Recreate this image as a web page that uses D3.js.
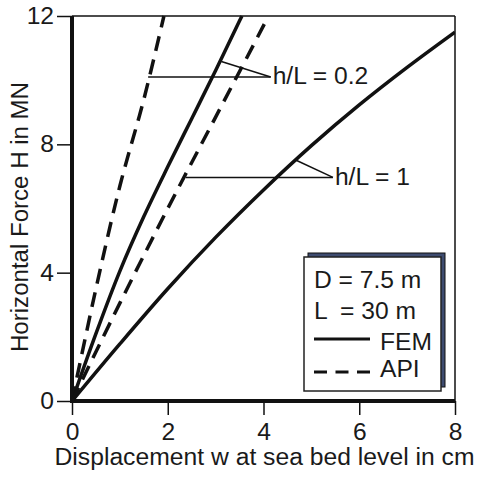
<!DOCTYPE html>
<html>
<head>
<meta charset="utf-8">
<script src="https://cdn.jsdelivr.net/npm/d3@7"></script>
<style>
  body { margin: 0; background: #fff; }
  svg text { font-family: "Liberation Sans", Arial, sans-serif; fill: #1a1a1a; }
</style>
</head>
<body>
<svg id="chart" width="478" height="477"></svg>
<script>
// values: displacement w (cm) vs force H (MN)
let femShortW = [0, 0.5, 1, 1.5, 2, 2.5, 3, 3.5, 3.55];
let femShortH = [0, 2.1, 4.05, 5.75, 7.3, 8.8, 10.3, 11.85, 12];
let apiShortW = [0, 0.5, 1, 1.5, 1.92];
let apiShortH = [0, 3.5, 6.7, 9.4, 12];
let femLongW  = [0, 1, 2, 3, 4, 5, 6, 7, 8];
let femLongH  = [0, 1.78, 3.5, 5.1, 6.58, 7.96, 9.23, 10.4, 11.5];
let apiLongW  = [0, 1, 2, 3, 4, 4.1];
let apiLongH  = [0, 3.05, 6.0, 8.85, 11.7, 12];

let xTicks = [0, 2, 4, 6, 8];
let yTicks = [0, 4, 8, 12];

// annotation leaders, in data units: [from curve point, to label point]
let leaderShort = [[1.59, 10.1], [4.15, 10.1], [3.12, 10.58]];
let leaderLong  = [[2.38, 6.97], [5.45, 6.97], [4.66, 7.52]];
let legendRows  = ['D = 7.5 m', 'L', 'FEM', 'API'];

const svg = d3.select('#chart');
const margin = { top: 16, left: 72, right: 23, bottom: 76 };
const width  = 478 - margin.left - margin.right;   // 383
const height = 477 - margin.top - margin.bottom;   // 385

const x = d3.scaleLinear().domain([0, 8]).range([margin.left, margin.left + width]);
const y = d3.scaleLinear().domain([0, 12]).range([margin.top + height, margin.top]);

const zip = (ws, hs) => ws.map((w, i) => ({ w: w, h: hs[i] }));
const line = d3.line()
  .x(d => x(d.w))
  .y(d => y(d.h))
  .curve(d3.curveCatmullRom.alpha(0.5));

// frame: thin top and right
svg.append('line')
  .attr('x1', x(0)).attr('x2', x(8))
  .attr('y1', y(12)).attr('y2', y(12))
  .attr('stroke', '#111').attr('stroke-width', 1.5);
svg.append('line')
  .attr('x1', x(8)).attr('x2', x(8))
  .attr('y1', y(12)).attr('y2', y(0))
  .attr('stroke', '#111').attr('stroke-width', 1.5);

// axes
const xAxis = svg.append('g')
  .attr('transform', `translate(0,${y(0)})`)
  .call(d3.axisBottom(x).tickValues(xTicks).tickSize(14).tickPadding(9).tickFormat(d3.format('d')));
const yAxis = svg.append('g')
  .attr('transform', `translate(${x(0)},0)`)
  .call(d3.axisLeft(y).tickValues(yTicks).tickSize(15).tickPadding(3).tickFormat(d3.format('d')));

[xAxis, yAxis].forEach(g => {
  g.select('.domain').remove();
  g.selectAll('.tick line').attr('stroke', '#111').attr('stroke-width', 1.5);
  g.selectAll('.tick text').attr('fill', '#1a1a1a').style('font-size', '23px');
});

// thick left and bottom axis lines
svg.append('line')
  .attr('x1', x(0)).attr('x2', x(0))
  .attr('y1', y(12)).attr('y2', y(0) + 2)
  .attr('stroke', '#111').attr('stroke-width', 4);
svg.append('line')
  .attr('x1', x(0) - 2).attr('x2', x(8))
  .attr('y1', y(0)).attr('y2', y(0))
  .attr('stroke', '#111').attr('stroke-width', 4);

// curves
const curves = [
  { data: zip(femShortW, femShortH), dash: null },
  { data: zip(apiShortW, apiShortH), dash: '15,9' },
  { data: zip(femLongW, femLongH),   dash: null },
  { data: zip(apiLongW, apiLongH),   dash: '15,9' },
];
svg.append('defs').append('clipPath').attr('id', 'plotClip')
  .append('rect')
  .attr('x', x(0)).attr('y', y(12) - 1)
  .attr('width', width).attr('height', height + 1);

svg.append('g').attr('clip-path', 'url(#plotClip)')
  .selectAll('path')
  .data(curves)
  .join('path')
  .attr('d', c => line(c.data))
  .attr('fill', 'none')
  .attr('stroke', '#111')
  .attr('stroke-width', 3.5)
  .attr('stroke-dasharray', c => c.dash);

// leaders and labels
function leader(pts, label, dyBase) {
  const g = svg.append('g');
  g.append('line')
    .attr('x1', x(pts[0][0])).attr('y1', y(pts[0][1]))
    .attr('x2', x(pts[1][0])).attr('y2', y(pts[1][1]))
    .attr('stroke', '#111').attr('stroke-width', 1.5);
  g.append('line')
    .attr('x1', x(pts[2][0])).attr('y1', y(pts[2][1]))
    .attr('x2', x(pts[1][0])).attr('y2', y(pts[1][1]))
    .attr('stroke', '#111').attr('stroke-width', 1.5);
  g.append('text')
    .attr('x', x(pts[1][0]) + 2)
    .attr('y', y(pts[1][1]) + dyBase)
    .style('font-size', '23px')
    .text(label);
}
leader(leaderShort, 'h/L = 0.2', 7);
leader(leaderLong, 'h/L = 1', 8);

// legend box with shadow
const lg = svg.append('g');
lg.append('rect')
  .attr('x', 308).attr('y', 253).attr('width', 137).attr('height', 134)
  .attr('fill', '#3e4c70').attr('stroke', '#111').attr('stroke-width', 1);
lg.append('rect')
  .attr('x', 304).attr('y', 257).attr('width', 137).attr('height', 134)
  .attr('fill', '#fff').attr('stroke', '#222').attr('stroke-width', 1.5);

lg.append('text').attr('x', 314).attr('y', 288).style('font-size', '23px').text(legendRows[0]);
lg.append('text').attr('x', 314).attr('y', 319).style('font-size', '23px').text(legendRows[1]);
lg.append('text').attr('x', 340).attr('y', 319).style('font-size', '23px').text('= 30 m');
lg.append('line')
  .attr('x1', 314).attr('x2', 370).attr('y1', 339).attr('y2', 339)
  .attr('stroke', '#111').attr('stroke-width', 3);
lg.append('text').attr('x', 380).attr('y', 350).style('font-size', '23px').text(legendRows[2]);
lg.append('line')
  .attr('x1', 314).attr('x2', 370).attr('y1', 372).attr('y2', 372)
  .attr('stroke', '#111').attr('stroke-width', 3)
  .attr('stroke-dasharray', '13,8.5');
lg.append('text').attr('x', 380).attr('y', 377).style('font-size', '23px').text(legendRows[3]);

// axis titles
svg.append('text')
  .attr('class', 'title')
  .attr('x', (x(0) + x(8)) / 2 + 1)
  .attr('y', 465)
  .attr('text-anchor', 'middle')
  .style('font-size', '23px')
  .attr('textLength', 420)
  .attr('lengthAdjust', 'spacingAndGlyphs')
  .text('Displacement w at sea bed level in cm');
svg.append('text')
  .attr('class', 'title')
  .attr('transform', 'translate(28,217) rotate(-90)')
  .attr('text-anchor', 'middle')
  .style('font-size', '23px')
  .attr('textLength', 270)
  .attr('lengthAdjust', 'spacingAndGlyphs')
  .text('Horizontal Force H in MN');

// the reference type is a bit wider than Arial
svg.selectAll('text:not(.title)').each(function() {
  const len = this.getComputedTextLength();
  d3.select(this).attr('textLength', len * 1.07).attr('lengthAdjust', 'spacingAndGlyphs');
});
</script>
</body>
</html>
